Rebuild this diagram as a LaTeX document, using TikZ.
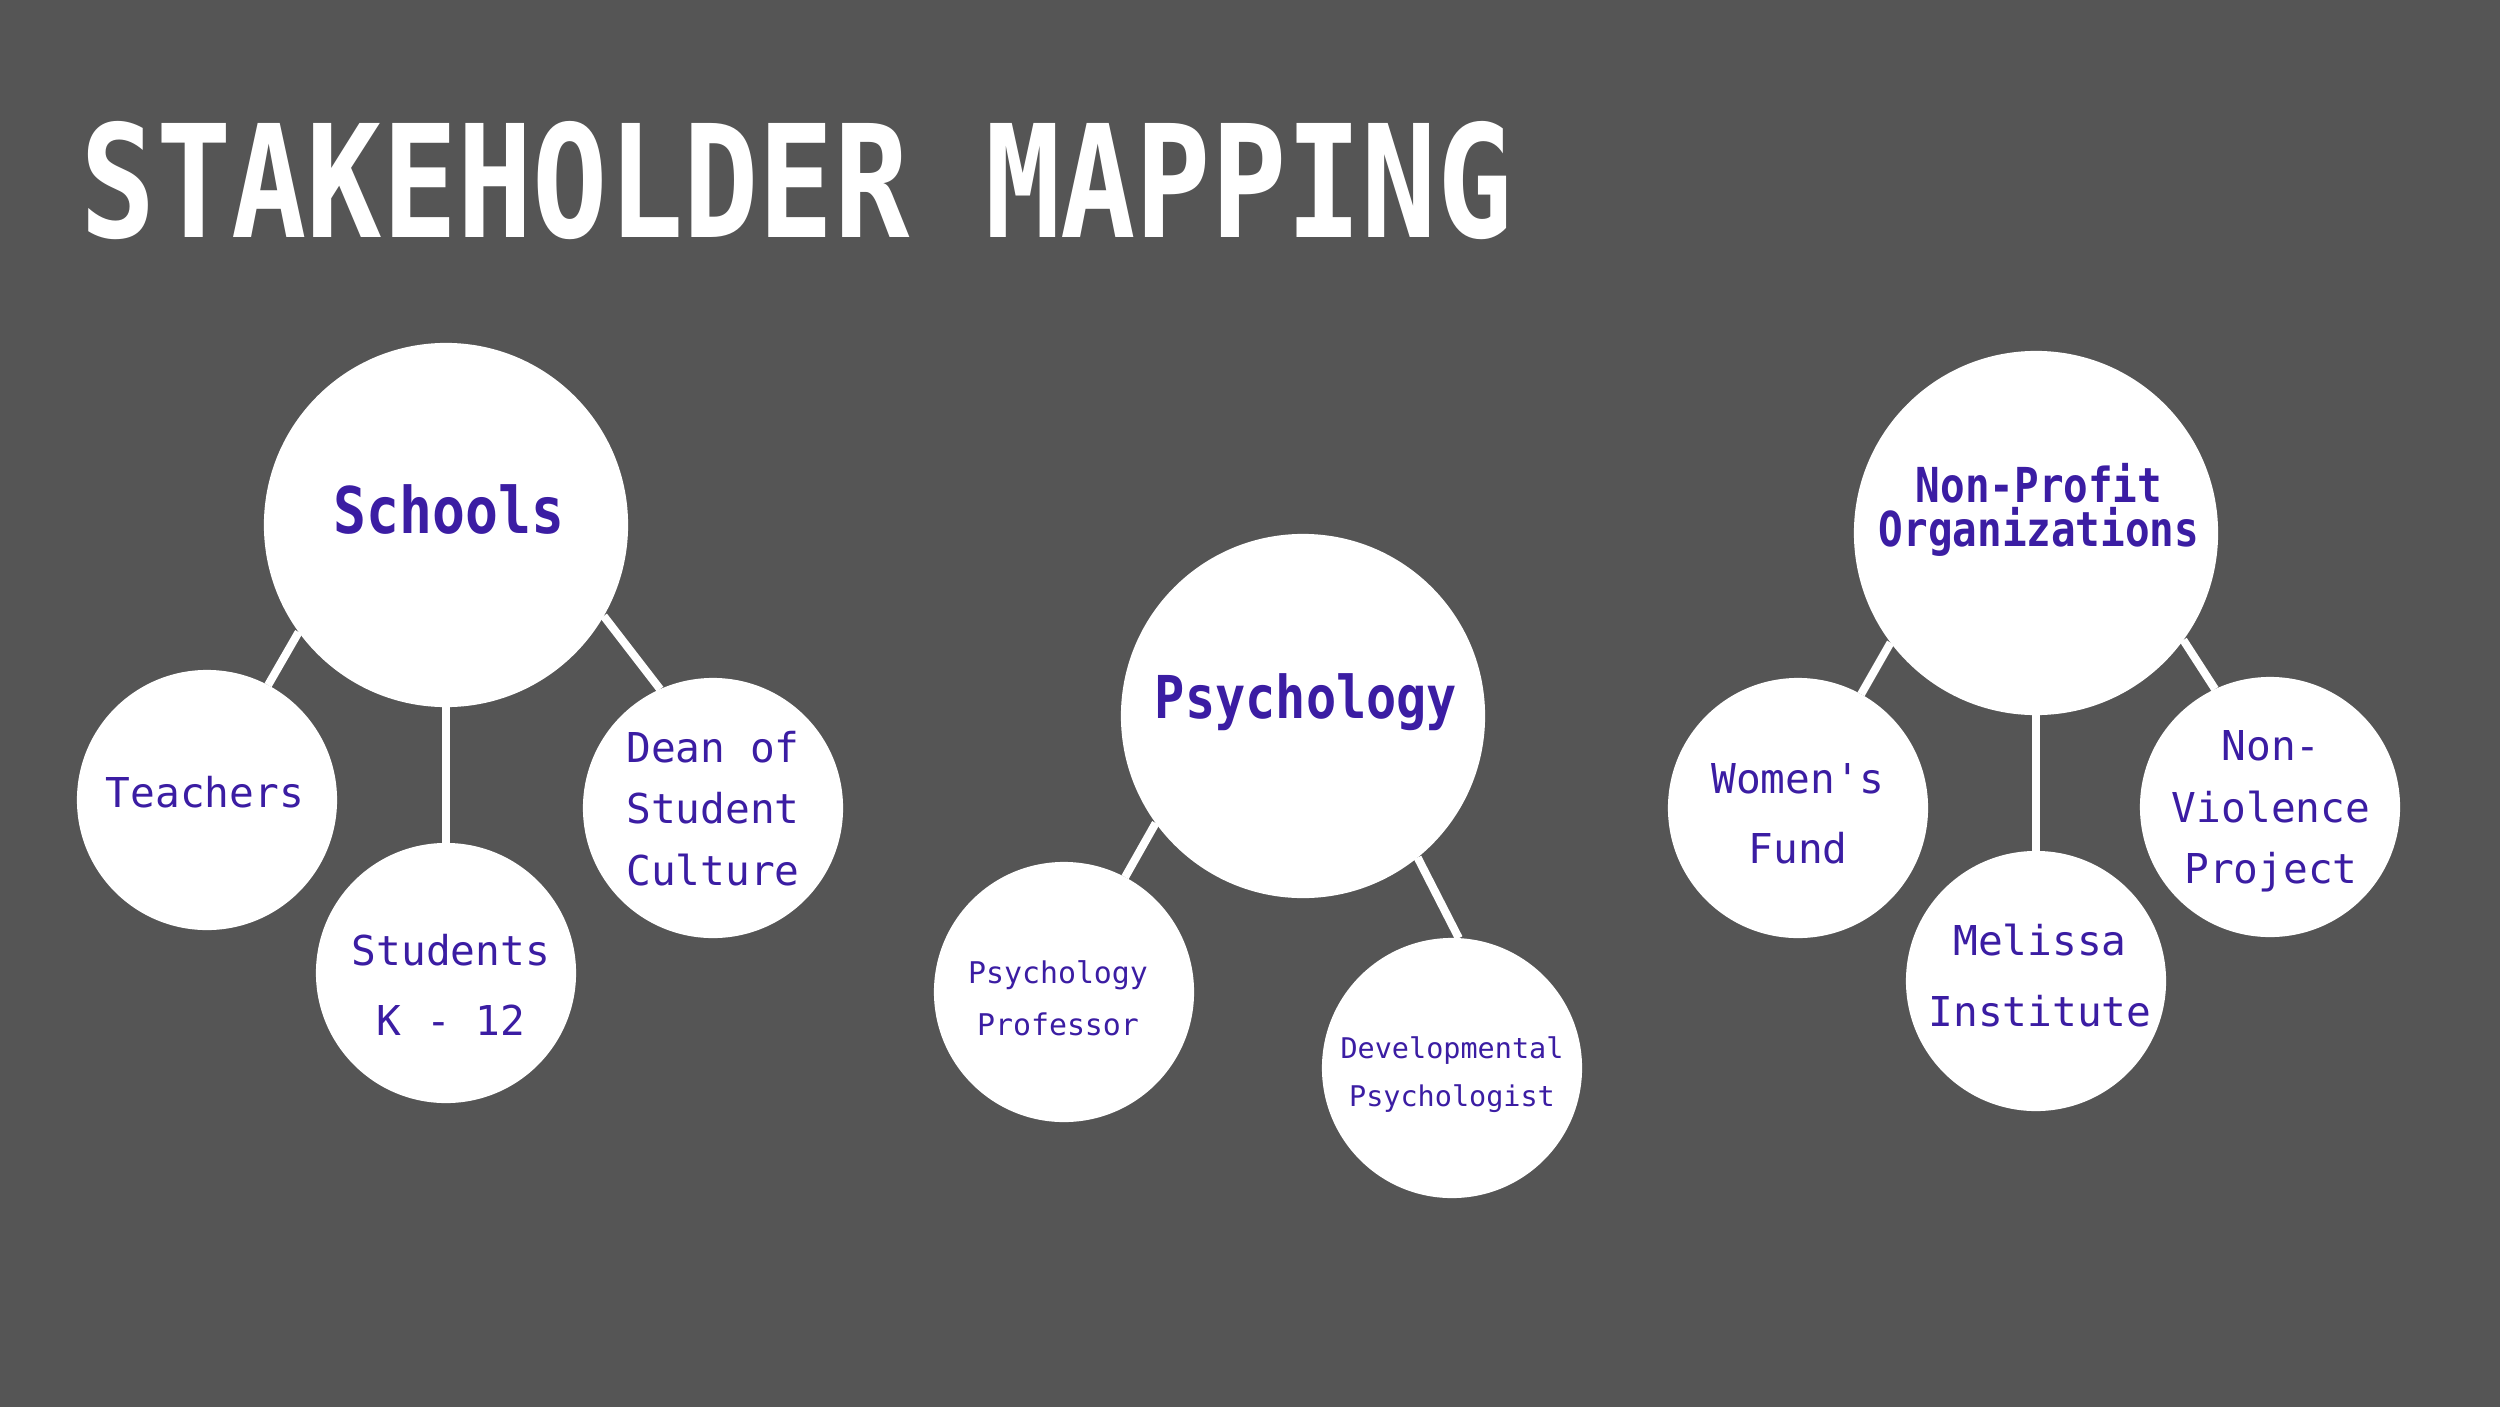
\documentclass[tikz,border=0pt]{standalone}
\usepackage{fontspec}
\newfontfamily\monofont{DejaVu Sans Mono}
\newfontfamily\pixfont{DejaVu Sans Mono Bold}[FakeStretch=0.85]
\newfontfamily\titlefont{DejaVu Sans Mono Bold}[FakeStretch=0.8]
\definecolor{bg}{HTML}{555555}
\definecolor{ink}{HTML}{3B1DA3}
\begin{document}
\begin{tikzpicture}[x=0.01cm,y=-0.01cm,
  big/.style={circle,fill=white,draw=none,inner sep=0pt,outer sep=0pt,minimum size=3.64cm},
  small/.style={circle,fill=white,draw=none,inner sep=0pt,outer sep=0pt,minimum size=2.6cm},
  link/.style={draw=white,line width=2.3pt},
  lbl/.style={anchor=base,inner sep=0pt,text=ink,font=\monofont\fontsize{11.7}{14}\selectfont},
  lblsm/.style={anchor=base,inner sep=0pt,text=ink,font=\monofont\fontsize{8.5}{10}\selectfont},
  lblxs/.style={anchor=base,inner sep=0pt,text=ink,font=\monofont\fontsize{8.1}{10}\selectfont},
  head/.style={anchor=base,inner sep=0pt,text=ink}]
\useasboundingbox (0,0) rectangle (2500,1406);
\fill[bg] (-10,-10) rectangle (2510,1416);

\node[anchor=base west,inner sep=0pt,text=white,font=\titlefont\fontsize{44.5}{50}\selectfont] (title) at (80,237) {STAKEHOLDER MAPPING};

% circles
\node[big] (sch) at (446,525) {};
\node[small] (tea) at (207,800) {};
\node[small] (stu) at (446,973) {};
\node[small] (dean) at (713,808) {};

\node[big] (psy) at (1303,716) {};
\node[small] (prof) at (1064,992) {};
\node[small] (dev) at (1452,1068) {};

\node[big] (np) at (2036,533) {};
\node[small] (wom) at (1798,808) {};
\node[small] (mel) at (2036,981) {};
\node[small] (nv) at (2270,807) {};

% connectors
\draw[link] (sch.216) -- (tea.62);
\draw[link] (sch.south) -- (stu.north);
\draw[link] (sch.-30) -- (dean.114);
\draw[link] (psy.216) -- (prof.62);
\draw[link] (psy.-51.5) -- (dev.87);
\draw[link] (np.217) -- (wom.61);
\draw[link] (np.south) -- (mel.north);
\draw[link] (np.-36.6) -- (nv.115);

% headings
\node[head,font=\pixfont\fontsize{18.3}{20}\selectfont] (tsch) at (449,533) {Schools};
\node[head,font=\pixfont\fontsize{16.8}{20}\selectfont] (tpsy) at (1306,718) {Psychology};
\node[head,font=\pixfont\fontsize{13.7}{16}\selectfont] (tnp1) at (2039,502) {Non-Profit};
\node[head,font=\pixfont\fontsize{13.7}{16}\selectfont] (tnp2) at (2039,546) {Organizations};

% small labels
\node[lbl] (ttea) at (205,807) {Teachers};
\node[lbl] (tstu1) at (451,965) {Students};
\node[lbl] (tstu2) at (451,1035) {K - 12};
\node[lbl] (tdean1) at (713,762) {Dean of};
\node[lbl] (tdean2) at (713,823) {Student};
\node[lbl] (tdean3) at (713,885) {Culture};

\node[lblsm] (tprof1) at (1058,983) {Psychology};
\node[lblsm] (tprof2) at (1058,1035) {Professor};
\node[lblxs] (tdev1) at (1452,1058) {Developmental};
\node[lblxs] (tdev2) at (1452,1106) {Psychologist};

\node[lbl] (twom1) at (1798,793) {Women's};
\node[lbl] (twom2) at (1798,863) {Fund};
\node[lbl] (tmel1) at (2040,955) {Melissa};
\node[lbl] (tmel2) at (2040,1026) {Institute};
\node[lbl] (tnv1) at (2271,760) {Non-};
\node[lbl] (tnv2) at (2271,822) {Violence};
\node[lbl] (tnv3) at (2271,883) {Project};
\end{tikzpicture}
\end{document}
